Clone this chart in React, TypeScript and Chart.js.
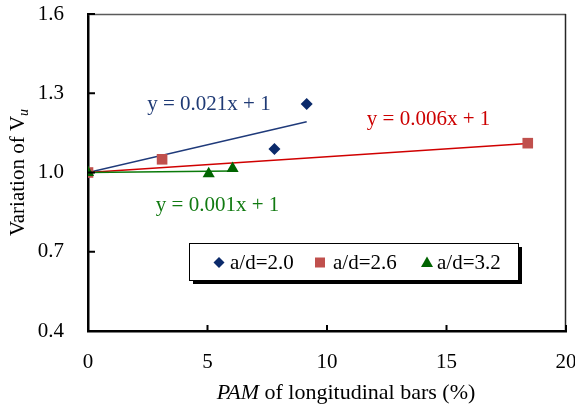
import React, { useEffect, useRef } from "react";
import { Chart, registerables } from "chart.js";

Chart.register(...registerables);

// ---- data ----
const ad20X = [0, 7.8, 9.15];
const ad20Y = [1.0, 1.089, 1.259];
const ad26X = [0, 3.1, 18.4];
const ad26Y = [1.0, 1.05, 1.111];
const ad32X = [0, 5.05, 6.05];
const ad32Y = [1.0, 0.995, 1.015];

// trend line end points (linear fits shown in the figure)
const trend20X = [0, 9.15];
const trend20Y = [1.0, 1.192];
const trend26X = [0, 18.4];
const trend26Y = [1.0, 1.11];
const trend32X = [0, 6.05];
const trend32Y = [1.0, 1.006];

const seriesLabels = ["a/d=2.0", "a/d=2.6", "a/d=3.2"];
const equationTexts = ["y = 0.021x + 1", "y = 0.006x + 1", "y = 0.001x + 1"];
const equationAnchorX = [5.06, 14.25, 5.42];
const equationAnchorY = [1.256, 1.199, 0.877];

const xTicks = [0, 5, 10, 15, 20];
const yTicks = [0.4, 0.7, 1.0, 1.3, 1.6];

const BLUE_MARK = "#0B2A6B";
const BLUE_LINE = "#1F3A7A";
const RED_MARK = "#C0504D";
const RED_LINE = "#D00000";
const GREEN_MARK = "#006400";
const GREEN_LINE = "#0A7A0A";
const BLUE_TEXT = "#1F3A75";
const RED_TEXT = "#CC0000";
const GREEN_TEXT = "#117A11";

const FONT = "'Liberation Serif', 'Times New Roman', serif";
const FS = 21;
const TITLE_FS = 22;

function zip(xs: number[], ys: number[]) {
  return xs.map((x, i) => ({ x, y: ys[i] }));
}

function drawMarker(ctx: CanvasRenderingContext2D, kind: string, x: number, y: number, color: string) {
  ctx.save();
  ctx.fillStyle = color;
  ctx.beginPath();
  if (kind === "diamond") {
    const r = 5.5;
    ctx.moveTo(x, y - r);
    ctx.lineTo(x + r, y);
    ctx.lineTo(x, y + r);
    ctx.lineTo(x - r, y);
  } else if (kind === "square") {
    ctx.rect(x - 5, y - 5, 10, 10);
  } else {
    ctx.moveTo(x, y - 6);
    ctx.lineTo(x + 6, y + 4.5);
    ctx.lineTo(x - 6, y + 4.5);
  }
  ctx.closePath();
  ctx.fill();
  ctx.restore();
}

const overlayPlugin = {
  id: "overlay",
  afterDraw(chart: any) {
    const ctx: CanvasRenderingContext2D = chart.ctx;
    const { left, right, top, bottom } = chart.chartArea;
    const xs = chart.scales.x;
    const ys = chart.scales.y;
    ctx.save();

    // top and right frame lines
    ctx.lineWidth = 1.5;
    ctx.strokeStyle = "#5A5A5A";
    ctx.beginPath();
    ctx.moveTo(left, top + 0.5);
    ctx.lineTo(right, top + 0.5);
    ctx.stroke();
    ctx.strokeStyle = "#262626";
    ctx.beginPath();
    ctx.moveTo(right - 0.5, top);
    ctx.lineTo(right - 0.5, bottom);
    ctx.stroke();

    // inner tick marks
    ctx.strokeStyle = "#000";
    ctx.lineWidth = 2;
    yTicks.forEach((v) => {
      const py = ys.getPixelForValue(v);
      ctx.beginPath();
      ctx.moveTo(left, py);
      ctx.lineTo(left + 7, py);
      ctx.stroke();
    });
    xTicks.forEach((v) => {
      const px = xs.getPixelForValue(v);
      ctx.beginPath();
      ctx.moveTo(px, bottom);
      ctx.lineTo(px, bottom - 6);
      ctx.stroke();
    });

    // equations
    const eqColors = [BLUE_TEXT, RED_TEXT, GREEN_TEXT];
    ctx.font = `${FS}px ${FONT}`;
    ctx.textAlign = "center";
    ctx.textBaseline = "middle";
    equationTexts.forEach((t, i) => {
      ctx.fillStyle = eqColors[i];
      ctx.fillText(t, xs.getPixelForValue(equationAnchorX[i]), ys.getPixelForValue(equationAnchorY[i]));
    });

    // legend box with shadow
    const bx = 189, by = 243, bw = 329, bh = 37;
    ctx.fillStyle = "#000";
    ctx.fillRect(bx + 4, by + 4, bw, bh);
    ctx.fillStyle = "#fff";
    ctx.fillRect(bx, by, bw, bh);
    ctx.strokeStyle = "#000";
    ctx.lineWidth = 1;
    ctx.strokeRect(bx + 0.5, by + 0.5, bw, bh);
    const kinds = ["diamond", "square", "triangle"];
    const markColors = [BLUE_MARK, RED_MARK, GREEN_MARK];
    const markX = [219, 320, 427];
    const textX = [230, 333, 437];
    const ly = by + bh / 2 + 1;
    ctx.textAlign = "left";
    seriesLabels.forEach((lab, i) => {
      drawMarker(ctx, kinds[i], markX[i], ly, markColors[i]);
      ctx.fillStyle = "#000";
      ctx.font = `${FS}px ${FONT}`;
      ctx.fillText(lab, textX[i], ly + 1);
    });

    // x-axis title: italic PAM + regular rest
    const part1 = "PAM";
    const part2 = " of longitudinal bars (%)";
    ctx.font = `italic ${TITLE_FS}px ${FONT}`;
    const w1 = ctx.measureText(part1).width;
    ctx.font = `${TITLE_FS}px ${FONT}`;
    const w2 = ctx.measureText(part2).width;
    const cx = 346;
    const tx = cx - (w1 + w2) / 2;
    const tyy = 393;
    ctx.textBaseline = "middle";
    ctx.fillStyle = "#000";
    ctx.font = `italic ${TITLE_FS}px ${FONT}`;
    ctx.fillText(part1, tx, tyy);
    ctx.font = `${TITLE_FS}px ${FONT}`;
    ctx.fillText(part2, tx + w1, tyy);

    // y-axis title: Variation of V with italic subscript u
    ctx.save();
    ctx.translate(18, (top + bottom) / 2);
    ctx.rotate(-Math.PI / 2);
    const m1 = "Variation of V";
    ctx.font = `${FS}px ${FONT}`;
    const mw1 = ctx.measureText(m1).width;
    ctx.font = `italic 14px ${FONT}`;
    const mw2 = ctx.measureText("u").width;
    const sx = -(mw1 + mw2) / 2;
    ctx.textAlign = "left";
    ctx.textBaseline = "middle";
    ctx.font = `${FS}px ${FONT}`;
    ctx.fillText(m1, sx, 0);
    ctx.font = `italic 14px ${FONT}`;
    ctx.fillText("u", sx + mw1, 6);
    ctx.restore();

    ctx.restore();
  },
};

function zeroPad(s: any) {
  s.paddingTop = 0;
  s.paddingBottom = 0;
  s.paddingLeft = 0;
  s.paddingRight = 0;
}

export default function App() {
  const ref = useRef<HTMLCanvasElement | null>(null);

  useEffect(() => {
    if (!ref.current) return;
    const chart = new Chart(ref.current, {
      type: "scatter",
      data: {
        datasets: [
          {
            label: seriesLabels[2],
            data: zip(ad32X, ad32Y),
            pointStyle: "triangle",
            pointRadius: 7,
            backgroundColor: GREEN_MARK,
            borderColor: GREEN_MARK,
            borderWidth: 0,
            order: 0,
          },
          {
            label: seriesLabels[1],
            data: zip(ad26X, ad26Y),
            pointStyle: "rect",
            pointRadius: 7.5,
            backgroundColor: RED_MARK,
            borderColor: RED_MARK,
            borderWidth: 0,
            order: 1,
          },
          {
            label: seriesLabels[0],
            data: zip(ad20X, ad20Y),
            pointStyle: "rectRot",
            pointRadius: 6,
            backgroundColor: BLUE_MARK,
            borderColor: BLUE_MARK,
            borderWidth: 0,
            order: 2,
          },
          {
            type: "line",
            label: "trend 2.0",
            data: zip(trend20X, trend20Y),
            borderColor: BLUE_LINE,
            borderWidth: 1.5,
            pointRadius: 0,
            showLine: true,
            fill: false,
            order: 5,
          } as any,
          {
            type: "line",
            label: "trend 2.6",
            data: zip(trend26X, trend26Y),
            borderColor: RED_LINE,
            borderWidth: 1.5,
            pointRadius: 0,
            showLine: true,
            fill: false,
            order: 4,
          } as any,
          {
            type: "line",
            label: "trend 3.2",
            data: zip(trend32X, trend32Y),
            borderColor: GREEN_LINE,
            borderWidth: 1.5,
            pointRadius: 0,
            showLine: true,
            fill: false,
            order: 3,
          } as any,
        ],
      },
      options: {
        responsive: false,
        animation: false,
        layout: { padding: { top: 14, right: 9, left: 0, bottom: 0 } },
        plugins: {
          legend: { display: false },
          tooltip: { enabled: false },
        },
        scales: {
          x: {
            type: "linear",
            min: 0,
            max: 20,
            afterBuildTicks: (s: any) => {
              s.ticks = xTicks.map((v) => ({ value: v }));
            },
            afterFit: (s: any) => {
              s.height = 79;
              zeroPad(s);
            },
            ticks: {
              font: { family: FONT, size: FS },
              color: "#000",
              padding: 19,
              maxRotation: 0,
            },
            grid: { drawOnChartArea: false, drawTicks: false },
            border: { color: "#000", width: 2.5 },
          },
          y: {
            type: "linear",
            min: 0.4,
            max: 1.6,
            afterBuildTicks: (s: any) => {
              s.ticks = yTicks.map((v) => ({ value: v }));
            },
            afterFit: (s: any) => {
              s.width = 88;
              zeroPad(s);
            },
            ticks: {
              font: { family: FONT, size: FS },
              color: "#000",
              padding: 24,
              callback: (v: any) => Number(v).toFixed(1),
            },
            grid: { drawOnChartArea: false, drawTicks: false },
            border: { color: "#000", width: 2.5 },
          },
        },
      },
      plugins: [overlayPlugin],
    });
    return () => chart.destroy();
  }, []);

  return (
    <div style={{ position: "absolute", left: 0, top: 0, width: 575, height: 410, background: "#fff" }}>
      <canvas ref={ref} width={575} height={410} style={{ width: 575, height: 410 }} />
    </div>
  );
}
